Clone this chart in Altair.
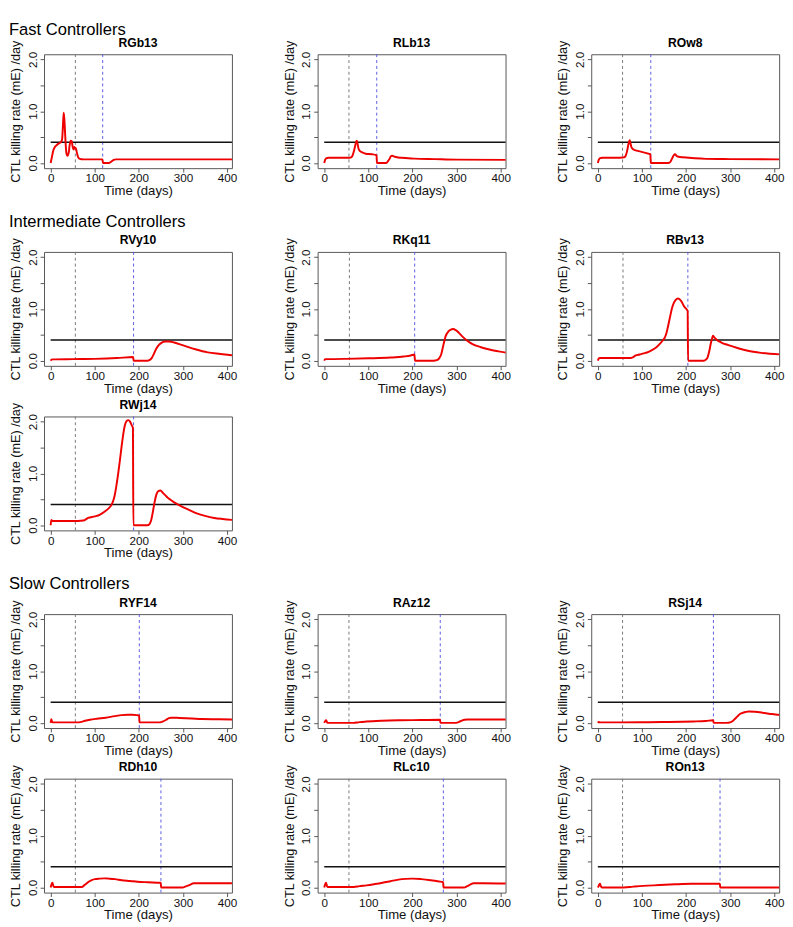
import altair as alt
import pandas as pd

# ---------------- data ----------------
X_MIN, X_MAX = -15, 411
Y_MIN, Y_MAX = -0.1, 2.1
THRESHOLD = 0.4
X_TICKS = [0, 100, 200, 300, 400]
Y_TICKS = [0, 0.5, 1.0, 1.5, 2.0]

section_titles = ["Fast Controllers", "Intermediate Controllers", "Slow Controllers"]
fast_names = ["RGb13", "RLb13", "ROw8"]
intermediate_names = ["RVy10", "RKq11", "RBv13", "RWj14"]
slow_names = ["RYF14", "RAz12", "RSj14", "RDh10", "RLc10", "ROn13"]

# dashed vertical markers (days)
first_line = [56, 56, 56, 56, 57, 57, 56, 56, 56, 56, 56, 56, 56]
second_line = [118, 119, 120, 188, 205, 204, 188, 201, 263, 262, 250, 270, 277]

rgb13_day = [0, 3, 6, 9, 13, 17, 21, 24, 26, 28, 29.6, 31, 32.5, 34, 36, 38, 41, 43, 45.5, 47.7,
             50, 52, 53.5, 55.7, 57, 59, 62, 66, 74, 100, 117.5, 118.5, 132, 138, 143, 148, 200, 300, 416]
rgb13_rate = [0, 0.12, 0.24, 0.3, 0.34, 0.37, 0.39, 0.41, 0.46, 0.74, 0.97, 0.86, 0.62, 0.37, 0.18, 0.14, 0.2, 0.34, 0.43, 0.42,
              0.31, 0.26, 0.31, 0.28, 0.29, 0.22, 0.12, 0.08, 0.07, 0.07, 0.07, 0.0, 0.0, 0.03, 0.06, 0.07, 0.07, 0.07, 0.07]

rlb13_day = [0, 2, 4, 10, 30, 55, 61, 64, 67, 70, 72, 74, 76, 78, 81, 85, 94, 108, 118.5, 119.5,
             140, 144, 148, 151, 154, 160, 175, 204, 250, 300, 416]
rlb13_rate = [0, 0.06, 0.09, 0.1, 0.1, 0.1, 0.11, 0.14, 0.22, 0.33, 0.4, 0.43, 0.35, 0.27, 0.23, 0.21, 0.18, 0.17, 0.15, 0.0,
              0.0, 0.03, 0.08, 0.13, 0.14, 0.12, 0.1, 0.085, 0.075, 0.065, 0.06]

row8_day = [0, 2, 4, 10, 40, 60, 63, 66, 69, 71, 72.5, 74, 76, 79, 84, 97, 110, 119, 120, 160,
            165, 169, 172, 175, 178, 183, 193, 220, 245, 300, 416]
row8_rate = [0, 0.06, 0.09, 0.1, 0.1, 0.11, 0.14, 0.22, 0.35, 0.42, 0.44, 0.38, 0.31, 0.27, 0.25, 0.22, 0.19, 0.17, 0.0, 0.0,
             0.03, 0.1, 0.15, 0.17, 0.14, 0.12, 0.11, 0.09, 0.08, 0.075, 0.07]

rvy10_day = [0, 2, 5, 50, 100, 150, 187, 188, 219, 224, 229, 234, 240, 246, 252, 260, 270, 280, 299, 328,
             356, 385, 416]
rvy10_rate = [0, 0.02, 0.025, 0.03, 0.035, 0.05, 0.07, 0.0, 0.0, 0.01, 0.05, 0.13, 0.24, 0.31, 0.35, 0.37, 0.37, 0.35, 0.3, 0.22,
              0.16, 0.13, 0.1]

rkq11_day = [0, 2, 5, 50, 100, 150, 180, 196, 204.5, 205.5, 248, 255, 260, 265, 270, 275, 281, 287, 292, 298,
             305, 314, 325, 336, 355, 372, 395, 416]
rkq11_rate = [0, 0.03, 0.03, 0.035, 0.045, 0.06, 0.08, 0.1, 0.12, 0.0, 0.0, 0.01, 0.04, 0.12, 0.3, 0.47, 0.56, 0.6, 0.61, 0.59,
              0.54, 0.46, 0.38, 0.32, 0.26, 0.22, 0.18, 0.15]

rbv13_day = [0, 2, 4, 50, 75, 80, 86, 95, 104, 115, 126, 134, 141, 147, 152, 156, 160, 164, 168, 172,
             176, 182, 189, 196, 203.5, 204.5, 240, 245, 249, 253, 256, 259, 261, 265, 270, 280, 296, 318, 340, 370,
             416]
rbv13_rate = [0, 0.04, 0.05, 0.05, 0.05, 0.07, 0.1, 0.12, 0.14, 0.17, 0.22, 0.27, 0.33, 0.39, 0.45, 0.55, 0.7, 0.86, 1.01, 1.11,
              1.17, 1.2, 1.15, 1.04, 0.96, 0.0, 0.0, 0.02, 0.07, 0.2, 0.33, 0.43, 0.48, 0.44, 0.4, 0.35, 0.3, 0.24, 0.19, 0.15,
              0.12]

rwj14_day = [0, 1.5, 3, 5, 50, 74, 85, 100, 111, 122, 132, 137, 141, 145, 149, 153, 157, 161, 165, 168,
             172, 176, 180, 184, 186.5, 187.5, 219, 224, 228, 232, 236, 240, 244, 249, 255, 262, 270, 280, 291, 310,
             328, 350, 371, 390, 416]
rwj14_rate = [0, 0.1, 0.09, 0.08, 0.08, 0.09, 0.14, 0.17, 0.2, 0.26, 0.33, 0.38, 0.45, 0.57, 0.76, 0.99, 1.25, 1.53, 1.78, 1.92,
              2.01, 2.03, 2.0, 1.93, 1.88, 0.0, 0.0, 0.02, 0.1, 0.27, 0.46, 0.6, 0.66, 0.67, 0.62, 0.56, 0.5, 0.44, 0.39, 0.31,
              0.24, 0.18, 0.14, 0.12, 0.1]

ryf14_day = [0, 1.5, 3, 5, 30, 60, 67, 78, 89, 105, 125, 145, 161, 175, 185, 195, 200.5, 201.5, 248, 255,
             262, 268, 273, 280, 291, 320, 342, 380, 416]
ryf14_rate = [0, 0.07, 0.03, 0.01, 0.01, 0.01, 0.015, 0.04, 0.06, 0.08, 0.1, 0.13, 0.15, 0.155, 0.155, 0.15, 0.145, 0.01, 0.01, 0.03,
              0.06, 0.09, 0.1, 0.1, 0.095, 0.085, 0.075, 0.07, 0.065]

raz12_day = [0, 2, 4, 6, 8, 40, 66, 80, 95, 130, 168, 219, 262.5, 263.5, 299, 306, 312, 318, 325, 360, 416]
raz12_rate = [0, 0.03, 0.05, 0.02, 0.0, 0.0, 0.0, 0.015, 0.025, 0.04, 0.05, 0.055, 0.06, 0.0, 0.0, 0.02, 0.045, 0.06, 0.065, 0.065, 0.065]

rsj14_day = [0, 2, 5, 50, 100, 145, 190, 218, 245, 261.5, 262.5, 291, 300, 305, 310, 316, 322, 327, 335, 342,
             356, 378, 395, 416]
rsj14_rate = [0, 0.015, 0.01, 0.01, 0.012, 0.017, 0.022, 0.028, 0.038, 0.05, 0.0, 0.0, 0.01, 0.03, 0.07, 0.12, 0.17, 0.19, 0.21, 0.22,
              0.215, 0.19, 0.17, 0.15]

rdh10_day = [0, 2, 4, 6, 8, 40, 71, 76, 82, 88, 93, 100, 111, 122, 132, 146, 161, 180, 197, 220,
             249.5, 250.5, 299, 306, 313, 318, 324, 330, 360, 416]
rdh10_rate = [0, 0.06, 0.09, 0.03, 0.01, 0.01, 0.01, 0.04, 0.08, 0.12, 0.14, 0.16, 0.17, 0.175, 0.17, 0.16, 0.14, 0.125, 0.11, 0.1,
              0.09, 0.0, 0.0, 0.02, 0.04, 0.06, 0.08, 0.08, 0.08, 0.08]

rlc10_day = [0, 2, 4, 6, 8, 40, 67, 80, 96, 115, 132, 150, 168, 185, 200, 220, 241, 260, 269.5, 270.5,
             317, 323, 328, 333, 338, 360, 416]
rlc10_rate = [0, 0.06, 0.09, 0.03, 0.01, 0.01, 0.01, 0.025, 0.04, 0.065, 0.09, 0.12, 0.15, 0.165, 0.17, 0.16, 0.14, 0.115, 0.1, 0.0,
              0.0, 0.02, 0.04, 0.065, 0.08, 0.08, 0.075]

ron13_day = [0, 2, 3.5, 5, 7, 9, 40, 59, 80, 103, 140, 175, 212, 250, 276.5, 277.5, 320, 416]
ron13_rate = [0, 0.03, 0.06, 0.07, 0.02, 0.0, 0.0, 0.0, 0.015, 0.03, 0.045, 0.06, 0.07, 0.07, 0.07, 0.0, 0.0, 0.0]

curves = {
    "RGb13": (rgb13_day, rgb13_rate), "RLb13": (rlb13_day, rlb13_rate), "ROw8": (row8_day, row8_rate),
    "RVy10": (rvy10_day, rvy10_rate), "RKq11": (rkq11_day, rkq11_rate), "RBv13": (rbv13_day, rbv13_rate),
    "RWj14": (rwj14_day, rwj14_rate),
    "RYF14": (ryf14_day, ryf14_rate), "RAz12": (raz12_day, raz12_rate), "RSj14": (rsj14_day, rsj14_rate),
    "RDh10": (rdh10_day, rdh10_rate), "RLc10": (rlc10_day, rlc10_rate), "ROn13": (ron13_day, ron13_rate),
}
all_names = fast_names + intermediate_names + slow_names

# ---------------- styling / layout ----------------
FONT = "Liberation Sans"
W, H = 193, 117
COL_GAP = 88        # gap between plot boxes (flush bounds)
ROW_GAP = 4         # grid row spacing
TOP_GAP = 10        # spacer row holding the first section title
GAP_WITHIN = 44     # spacer height between rows of one group
GAP_ACROSS = 78     # spacer height before a new group (holds section title)
PT_DY = 9.5         # panel title shift


def x_enc(field):
    return alt.X(f"{field}:Q",
                 scale=alt.Scale(domain=[X_MIN, X_MAX], nice=False, zero=False),
                 axis=alt.Axis(values=X_TICKS, title="Time (days)", format="d", titleFontSize=13.5,
                               labelPadding=1, titlePadding=0, labelFlush=False, labelOverlap=False))


def y_enc(field):
    return alt.Y(f"{field}:Q",
                 scale=alt.Scale(domain=[Y_MIN, Y_MAX], nice=False, zero=False),
                 axis=alt.Axis(values=Y_TICKS, title="CTL killing rate (mE) /day", titleFontSize=13,
                               labelExpr="datum.value % 1 == 0 ? format(datum.value, '.1f') : ''",
                               labelAngle=270, labelAlign="center", labelBaseline="bottom",
                               labelPadding=1, titlePadding=4, labelFlush=False, labelOverlap=False))


def panel(name):
    i = all_names.index(name)
    days, rates = curves[name]
    df = pd.DataFrame({"day": days, "rate": rates})
    v1 = alt.Chart(pd.DataFrame({"day": [first_line[i]]})).mark_rule(
        color="#777777", strokeWidth=1, strokeDash=[3, 3]).encode(x=x_enc("day"))
    v2 = alt.Chart(pd.DataFrame({"day": [second_line[i]]})).mark_rule(
        color="#5a5ae0", strokeWidth=1, strokeDash=[3, 3]).encode(x=x_enc("day"))
    thr = alt.Chart(pd.DataFrame({"x0": [0], "x1": [X_MAX], "y": [THRESHOLD]})).mark_rule(
        color="#111111", strokeWidth=1.6).encode(x=x_enc("x0"), x2="x1:Q", y=y_enc("y"))
    line = alt.Chart(df).mark_line(color="#ee0000", strokeWidth=2, interpolate="monotone", clip=True).encode(
        x=x_enc("day"), y=y_enc("rate"))
    return alt.layer(v1, v2, thr, line).properties(
        width=W, height=H,
        title=alt.TitleParams(name, fontSize=12.5, fontWeight="bold", offset=0, dy=PT_DY,
                              color="#000000", font=FONT))


def spacer(h, text=None, text_y=0):
    if text is None:
        base = alt.Chart(pd.DataFrame({"v": [0]})).mark_point(opacity=0).encode(
            x=alt.value(0), y=alt.value(0))
    else:
        base = alt.Chart(pd.DataFrame({"label": [text]})).mark_text(
            align="left", baseline="alphabetic", fontSize=17, font=FONT, color="#000000").encode(
            text="label:N", x=alt.value(-36), y=alt.value(text_y))
    return base.properties(width=W, height=h, view=alt.ViewBackground(stroke="transparent"))


cells = []
# Fast controllers
cells += [spacer(TOP_GAP, section_titles[0], TOP_GAP + ROW_GAP - 20), spacer(TOP_GAP), spacer(TOP_GAP)]
cells += [panel(n) for n in fast_names]
# Intermediate controllers
cells += [spacer(GAP_ACROSS, section_titles[1], GAP_ACROSS + ROW_GAP - 26), spacer(GAP_ACROSS), spacer(GAP_ACROSS)]
cells += [panel(n) for n in intermediate_names[:3]]
cells += [spacer(GAP_WITHIN) for _ in range(3)]
cells += [panel(intermediate_names[3]), spacer(1), spacer(1)]
# Slow controllers
cells += [spacer(GAP_ACROSS, section_titles[2], GAP_ACROSS + ROW_GAP - 26), spacer(GAP_ACROSS), spacer(GAP_ACROSS)]
cells += [panel(n) for n in slow_names[:3]]
cells += [spacer(GAP_WITHIN) for _ in range(3)]
cells += [panel(n) for n in slow_names[3:]]

chart = alt.concat(*cells, columns=3, spacing={"row": ROW_GAP, "column": COL_GAP},
                   bounds="flush", align="each").properties(padding=0).configure(
    font=FONT
).configure_view(
    stroke="#555555", strokeWidth=1
).configure_axis(
    domain=False, grid=False, tickColor="#555555", tickSize=4, tickWidth=1,
    labelFont=FONT, titleFont=FONT, labelFontSize=12, titleFontSize=13,
    titleFontWeight="normal", labelColor="#111111", titleColor="#111111"
)

chart.save("out.html", embed_options={"renderer": "svg", "actions": False})
